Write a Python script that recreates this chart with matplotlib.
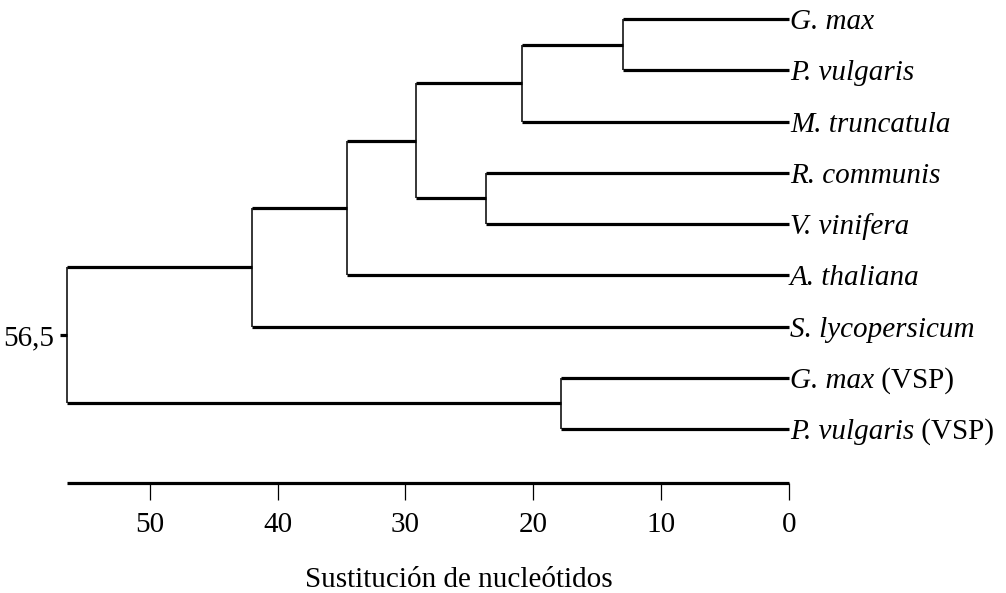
import matplotlib
matplotlib.use("Agg")
import matplotlib.pyplot as plt

plt.rcParams['font.family'] = ['Liberation Serif', 'DejaVu Serif']

# leaves, top to bottom: (italic part, roman suffix)
species = ["G. max", "P. vulgaris", "M. truncatula", "R. communis", "V. vinifera",
           "A. thaliana", "S. lycopersicum", "G. max", "P. vulgaris"]
suffix = ["", "", "", "", "", "", "", " (VSP)", " (VSP)"]

# merges: (child a, child b, height); new nodes numbered after the leaves
merge_a = [0, 9, 3, 10, 12, 13, 7, 14]
merge_b = [1, 2, 4, 11, 5, 6, 8, 15]
merge_h = [13.0, 20.9, 23.7, 29.2, 34.6, 42.0, 17.8, 56.5]

xticks = [50, 40, 30, 20, 10, 0]
root_label = "56,5"
xlabel = "Sustitución de nucleótidos"

FS = 21
W, H = 1006, 593
fig = plt.figure(figsize=(W / 100, H / 100), dpi=100)

# axes spans x: 56.5 -> 0 ; leaf 0 at the top
left_px, right_px, top_px, bottom_px = 66.7, 789, 19, 483
ax = fig.add_axes([left_px / W, 1 - bottom_px / H,
                   (right_px - left_px) / W, (bottom_px - top_px) / H])
leaf_step = 51.25
ax.set_xlim(56.5, 0)
ax.set_ylim((bottom_px - top_px) / leaf_step, 0)

n = len(species)
pos_y = {i: float(i) for i in range(n)}
pos_h = {i: 0.0 for i in range(n)}

for k, (a, b, h) in enumerate(zip(merge_a, merge_b, merge_h)):
    node = n + k
    ya, yb = pos_y[a], pos_y[b]
    ax.plot([h, h], [ya, yb], color="black", lw=1.1, clip_on=False,
            solid_capstyle="butt")
    for c in (a, b):
        ax.plot([h, pos_h[c]], [pos_y[c], pos_y[c]], color="black", lw=2.3,
                clip_on=False, solid_capstyle="butt")
    pos_y[node] = (ya + yb) / 2
    pos_h[node] = h

root = n + len(merge_h) - 1

for i, (sp, suf) in enumerate(zip(species, suffix)):
    t = ax.annotate(sp, xy=(0, i), xytext=(1, 0), textcoords="offset pixels",
                    ha="left", va="center_baseline", fontsize=FS,
                    style="italic", annotation_clip=False)
    if suf:
        ax.annotate(suf, xy=(1, 0), xycoords=t, ha="left", va="bottom",
                    fontsize=FS)

for s in ["top", "right", "left"]:
    ax.spines[s].set_visible(False)
ax.spines["bottom"].set_linewidth(2.3)
ax.spines["bottom"].set_capstyle("butt")

ax.set_xticks(xticks)
ax.set_xticklabels([str(v) for v in xticks])
ax.tick_params(axis="x", direction="out", length=12, width=0.9, pad=9,
               labelsize=FS)
ax.set_yticks([pos_y[root]])
ax.set_yticklabels([root_label])
ax.tick_params(axis="y", direction="out", length=5, width=2.3, pad=4,
               labelsize=FS)

fig.text(459 / W, 1 - 580 / H, xlabel, ha="center", va="center", fontsize=FS)

fig.savefig("out.png", dpi=100, facecolor="white")
